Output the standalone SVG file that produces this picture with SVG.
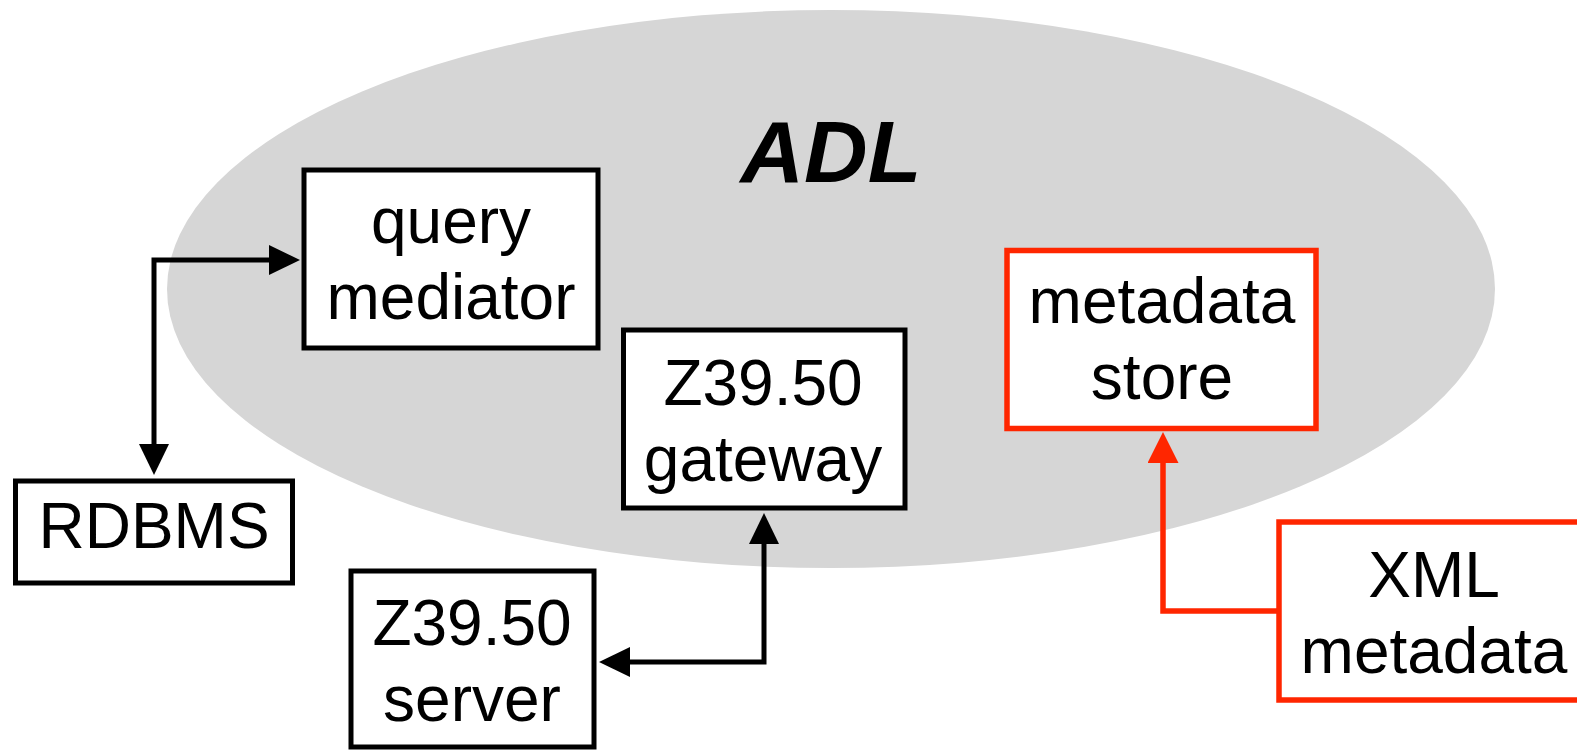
<svg xmlns="http://www.w3.org/2000/svg" width="1577" height="751" viewBox="0 0 1577 751">
  <style>
    .box { fill: #ffffff; stroke: #000000; stroke-width: 5; }
    .rbox { fill: #ffffff; stroke: #ff2600; stroke-width: 5.5; }
    .lbl { font-family: "Liberation Sans", Arial, sans-serif; font-size: 64px; fill: #000000; text-anchor: middle; }
    .conn { fill: none; stroke: #000000; stroke-width: 5; }
    .rconn { fill: none; stroke: #ff2600; stroke-width: 5.5; }
  </style>
  <defs>
    <marker id="ah" markerUnits="userSpaceOnUse" viewBox="0 0 31 30" markerWidth="31" markerHeight="30" refX="2" refY="15" orient="auto-start-reverse">
      <path d="M0,0 L31,15 L0,30 Z" fill="#000000"/>
    </marker>
    <marker id="ahr" markerUnits="userSpaceOnUse" viewBox="0 0 31 31" markerWidth="31" markerHeight="31" refX="2" refY="15.5" orient="auto-start-reverse">
      <path d="M0,0 L31,15.5 L0,31 Z" fill="#ff2600"/>
    </marker>
  </defs>

  <g id="adl">
    <ellipse cx="831" cy="289" rx="664" ry="279" fill="#d6d6d6"/>
    <text x="831" y="182" font-family="Liberation Sans, Arial, sans-serif" font-size="88" font-weight="bold" font-style="italic" text-anchor="middle" fill="#000000">ADL</text>
  </g>

  <g id="connectors">
    <path class="conn" d="M154,446 L154,260 L271,260" marker-start="url(#ah)" marker-end="url(#ah)"/>
    <path class="conn" d="M764,542 L764,662 L628,662" marker-start="url(#ah)" marker-end="url(#ah)"/>
    <path class="rconn" d="M1279,611 L1163,611 L1163,461" marker-end="url(#ahr)"/>
  </g>

  <g id="query-mediator">
    <rect class="box" x="304" y="170" width="294" height="178"/>
    <text class="lbl" x="451" y="243">query</text>
    <text class="lbl" x="451" y="319">mediator</text>
  </g>

  <g id="rdbms">
    <rect class="box" x="15.5" y="481" width="277" height="102"/>
    <text class="lbl" x="154" y="548">RDBMS</text>
  </g>

  <g id="z3950-gateway">
    <rect class="box" x="623.5" y="330" width="281.5" height="178"/>
    <text class="lbl" x="763" y="405">Z39.50</text>
    <text class="lbl" x="763" y="481">gateway</text>
  </g>

  <g id="z3950-server">
    <rect class="box" x="351" y="571" width="243" height="176"/>
    <text class="lbl" x="472" y="645">Z39.50</text>
    <text class="lbl" x="472" y="721">server</text>
  </g>

  <g id="metadata-store">
    <rect class="rbox" x="1007" y="250.5" width="309" height="178"/>
    <text class="lbl" x="1162" y="323">metadata</text>
    <text class="lbl" x="1162" y="399">store</text>
  </g>

  <g id="xml-metadata">
    <rect class="rbox" x="1279" y="522" width="310" height="178"/>
    <text class="lbl" x="1434" y="597">XML</text>
    <text class="lbl" x="1434" y="673">metadata</text>
  </g>
</svg>
